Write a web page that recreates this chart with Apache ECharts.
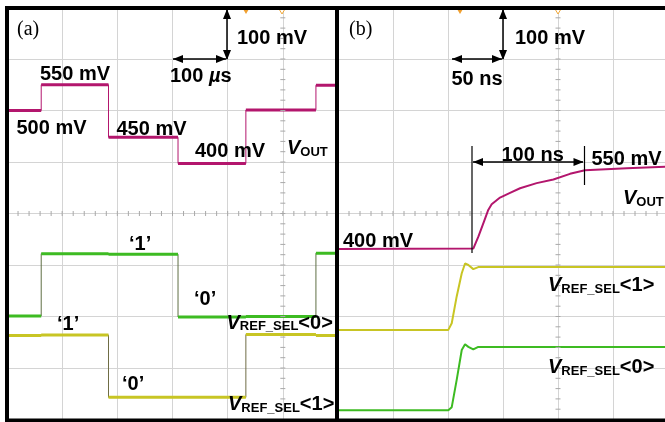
<!DOCTYPE html>
<html>
<head>
<meta charset="utf-8">
<script src="https://cdn.jsdelivr.net/npm/echarts@6/dist/echarts.min.js"></script>
<style>
  html, body { margin: 0; padding: 0; background: #fff; }
  #chart { width: 665px; height: 422px; }
</style>
</head>
<body>
<div id="chart"></div>
<script>
// (a) 100 us/div, time relative to screen centre. levels are held between edges
const segEdgesA = [-500, -438, -316, -190, -67, 60, 100];
const voutA = [500, 550, 448, 397, 501, 549];              // mV
const sel0A = [-1.99, -0.78, -0.79, -2.01, -2.0, -0.77];   // div
const sel1A = [-2.37, -2.36, -3.57, -3.57, -2.35, -2.37];  // div

// (b) 50 ns/div
const tVoutB = [-200, -77, -72.4, -67.9, -63.4, -60.3, -52.7, -43.6, -34.5, -19.4, -4.2, 10.9, 24.5, 62.5, 100];
const voutB = [400, 401, 424, 450, 476, 487, 500, 509, 518, 528, 535, 546, 553, 557, 560];
const tSelB = [-200, -99.7, -96.6, -92.1, -87.5, -84.5, -81.5, -77, -72.5, 100];
const sel1B = [-2.26, -2.26, -2.13, -1.61, -1.16, -0.97, -1.0, -1.08, -1.04, -1.04];
const sel0B = [-3.82, -3.82, -3.76, -3.23, -2.65, -2.54, -2.59, -2.64, -2.59, -2.59];

const C_VOUT = '#b3166d';
const C_SEL0 = '#3dbb22';
const C_SEL1 = '#c8c524';
const C_GRID = '#d4d4d4';
const C_TICK = '#a8a8a8';

const chart = echarts.init(document.getElementById('chart'));

// step trace as one continuous line (edges included)
function steps(edges, vals) {
  const out = [];
  vals.forEach((v, i) => { out.push([edges[i], v], [edges[i + 1], v]); });
  return out;
}
// only the flat parts, broken between segments
function levels(edges, vals) {
  const out = [];
  vals.forEach((v, i) => {
    out.push([edges[i], v], [edges[i + 1], v]);
    if (i < vals.length - 1) out.push(null);
  });
  return out;
}
function zip(xs, ys) { return xs.map((x, i) => [x, ys[i]]); }

function line(name, xi, yi, data, color, width) {
  return {
    name, type: 'line', xAxisIndex: xi, yAxisIndex: yi, data,
    showSymbol: false, symbol: 'none', connectNulls: false,
    lineStyle: { color, width }, itemStyle: { color }, silent: true
  };
}

function mainAxis(grid, min, max, interval) {
  return {
    type: 'value', gridIndex: grid, min, max, interval,
    axisLine: { show: false }, axisTick: { show: false }, axisLabel: { show: false },
    splitLine: { show: true, lineStyle: { color: C_GRID, width: 1 } }
  };
}
function hiddenY(grid, min, max) {
  return { type: 'value', gridIndex: grid, min, max, show: false };
}

// ---- annotations ----
const F = 'Liberation Sans, Arial, sans-serif';
const RICH = {
  n: { fontFamily: F, fontWeight: 'bold', fontSize: 20, lineHeight: 24, verticalAlign: 'bottom', fill: '#000' },
  i: { fontFamily: F, fontWeight: 'bold', fontStyle: 'italic', fontSize: 20, lineHeight: 24, verticalAlign: 'bottom', fill: '#000' },
  s: { fontFamily: F, fontWeight: 'bold', fontSize: 13, lineHeight: 14, verticalAlign: 'bottom', fill: '#000' },
  p: { fontFamily: 'Liberation Serif, Times New Roman, serif', fontSize: 20, lineHeight: 24, verticalAlign: 'bottom', fill: '#000' }
};
function label(x, y, text) {
  return { type: 'text', x, y, z: 100, silent: true,
    style: { text, rich: RICH, align: 'left', verticalAlign: 'top' } };
}
function seg(x1, y1, x2, y2, w, color, z) {
  return { type: 'line', z: z || 100, silent: true, shape: { x1, y1, x2, y2 },
    style: { stroke: color || '#000', lineWidth: w || 1.5 } };
}
function head(x, y, dir) {
  const L = 10, H = 4;
  let pts;
  if (dir === 'up') pts = [[x, y], [x - H, y + L], [x + H, y + L]];
  if (dir === 'down') pts = [[x, y], [x - H, y - L], [x + H, y - L]];
  if (dir === 'left') pts = [[x, y], [x + L, y - H], [x + L, y + H]];
  if (dir === 'right') pts = [[x, y], [x - L, y - H], [x - L, y + H]];
  return { type: 'polygon', z: 100, silent: true, shape: { points: pts }, style: { fill: '#000' } };
}
function marker(x, hollow) {
  return { type: 'polygon', z: 90, silent: true,
    shape: { points: [[x - 3, 9], [x + 3, 9], [x, 14]] },
    style: hollow ? { fill: '#fff', stroke: '#f0a83a', lineWidth: 1 } : { fill: '#f0a030' } };
}
function bar(x, y, w, h) {
  return { type: 'rect', z: 110, silent: true, shape: { x, y, width: w, height: h }, style: { fill: '#000' } };
}

const graphic = [
  // frame
  bar(5, 6, 665, 4), bar(5, 6, 4, 417), bar(335, 6, 4, 417), bar(5, 418.5, 665, 4),
  marker(246, false), marker(282, true), marker(460, false), marker(558, true),

  // (a)
  label(17, 15.5, '{p|(a)}'),
  seg(227, 10, 227, 59), head(227, 9, 'up'), head(227, 60, 'down'),
  seg(173, 59, 226, 59), head(173, 59, 'left'), head(226, 59, 'right'),
  label(237, 24, '{n|100 mV}'),
  label(170, 62.5, '{n|100 }{i|µ}{n|s}'),
  label(40, 60.5, '{n|550 mV}'),
  label(16.5, 114, '{n|500 mV}'),
  label(116.5, 115.5, '{n|450 mV}'),
  label(195, 137.3, '{n|400 mV}'),
  label(287, 134.5, '{i|V}{s|OUT}'),
  label(129, 230, '{n|‘1’}'),
  label(194, 285.5, '{n|‘0’}'),
  label(57, 310.5, '{n|‘1’}'),
  label(122, 370.5, '{n|‘0’}'),
  label(226.5, 309, '{i|V}{s|REF_SEL}{n|<0>}'),
  label(228, 390.5, '{i|V}{s|REF_SEL}{n|<1>}'),

  // (b)
  label(349, 15.5, '{p|(b)}'),
  seg(503, 10, 503, 59), head(503, 9, 'up'), head(503, 60, 'down'),
  seg(452, 59, 502, 59), head(452, 59, 'left'), head(502, 59, 'right'),
  label(515, 24, '{n|100 mV}'),
  label(451.5, 65.5, '{n|50 ns}'),
  seg(472, 146, 472, 253, 1.2), seg(584.5, 146, 584.5, 185, 1.2),
  seg(473, 162, 583, 162), head(473, 162, 'left'), head(583.5, 162, 'right'),
  label(501.5, 141, '{n|100 ns}'),
  label(591.5, 145.7, '{n|550 mV}'),
  label(623, 184.5, '{i|V}{s|OUT}'),
  label(343, 227.3, '{n|400 mV}'),
  label(548, 271.5, '{i|V}{s|REF_SEL}{n|<1>}'),
  label(548, 353.5, '{i|V}{s|REF_SEL}{n|<0>}')
];

const option = {
  animation: false,
  backgroundColor: '#fff',
  grid: [
    { left: 7, top: 7.5, width: 331, height: 412, outerBoundsMode: 'none', show: false },
    { left: 338, top: 7.5, width: 330, height: 412, outerBoundsMode: 'none', show: false }
  ],
  xAxis: [
    mainAxis(0, -500, 100, 100),
    mainAxis(1, -200, 100, 50)
  ],
  yAxis: [
    mainAxis(0, -4, 4, 1),
    hiddenY(0, -100, 700),
    mainAxis(1, -4, 4, 1),
    hiddenY(1, 69, 869)
  ],
  series: [
    // (a) thin edges + heavier flat levels
    line('VOUT a edges', 0, 1, steps(segEdgesA, voutA), C_VOUT, 1),
    line('VOUT a', 0, 1, levels(segEdgesA, voutA), C_VOUT, 3),
    line('SEL0 a edges', 0, 0, steps(segEdgesA, sel0A), '#5f6f45', 1),
    line('SEL0 a', 0, 0, levels(segEdgesA, sel0A), C_SEL0, 3),
    line('SEL1 a edges', 0, 0, steps(segEdgesA, sel1A), '#6f6d45', 1),
    line('SEL1 a', 0, 0, levels(segEdgesA, sel1A), C_SEL1, 3),
    // (b)
    line('VOUT b', 1, 3, zip(tVoutB, voutB), C_VOUT, 2),
    line('SEL1 b', 1, 2, zip(tSelB, sel1B), C_SEL1, 2),
    line('SEL0 b', 1, 2, zip(tSelB, sel0B), C_SEL0, 2)
  ],
  graphic
};

chart.setOption(option);

// minor ticks on the two centre lines of each screen (every 0.2 div)
function centreTicks(xi, yi, xMin, xMax, xStep) {
  const out = [];
  const fin = { xAxisIndex: xi, yAxisIndex: yi };
  for (let k = 0; xMin + k * xStep <= xMax + 1e-9; k++) {
    const p = chart.convertToPixel(fin, [xMin + k * xStep, 0]);
    out.push(seg(p[0], p[1] - 2.5, p[0], p[1] + 2.5, 1, C_TICK, 5));
  }
  for (let k = 0; k <= 40; k++) {
    const p = chart.convertToPixel(fin, [0, -4 + k * 0.2]);
    out.push(seg(p[0] - 2.5, p[1], p[0] + 2.5, p[1], 1, C_TICK, 5));
  }
  return out;
}
const ticks = centreTicks(0, 0, -500, 100, 20).concat(centreTicks(1, 2, -200, 100, 10));
chart.setOption({ graphic: graphic.concat(ticks) });
</script>
</body>
</html>
